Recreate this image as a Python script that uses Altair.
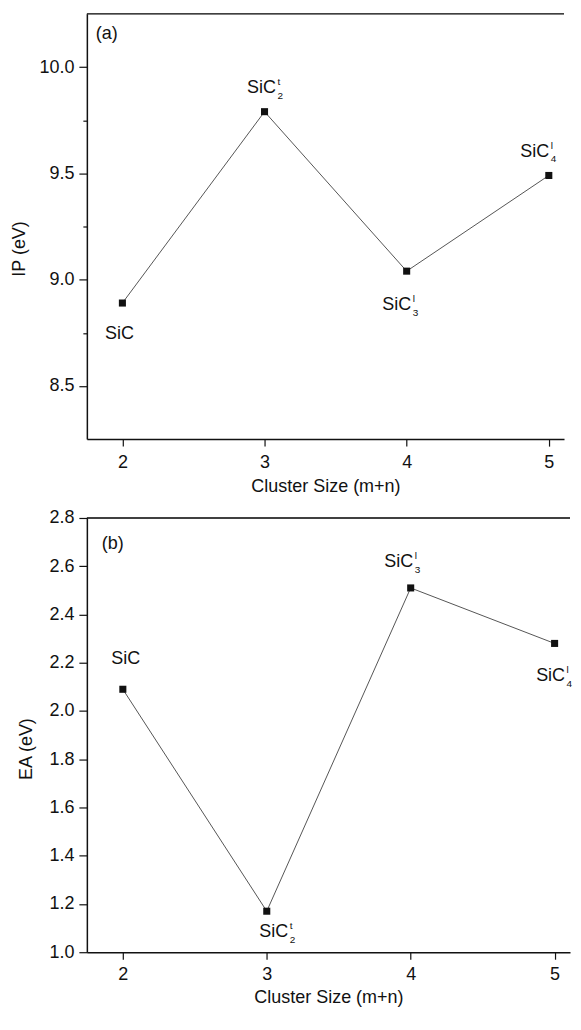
import altair as alt
import pandas as pd

# ---- data ----
cluster_size = [2, 3, 4, 5]
ip_values = [8.89, 9.79, 9.04, 9.49]
ea_values = [2.09, 1.17, 2.51, 2.28]
formula_base = ["SiC", "SiC", "SiC", "SiC"]
ip_sub = ["", "2", "3", "4"]
ip_sup = ["", "t", "l", "l"]
ea_sub = ["", "2", "3", "4"]
ea_sup = ["", "t", "l", "l"]

x_ticks = [2, 3, 4, 5]
ip_ticks = [8.5, 8.75, 9.0, 9.25, 9.5, 9.75, 10.0]
ea_ticks = [1.0, 1.1, 1.2, 1.3, 1.4, 1.5, 1.6, 1.7, 1.8, 1.9,
            2.0, 2.1, 2.2, 2.3, 2.4, 2.5, 2.6, 2.7, 2.8]

# label placement (pixel offsets from each point)
ip_label_dx = [-3, -3, -10, -14]
ip_label_dy = [31, -24, 34, -24]
ea_label_dx = [3, 7, -12, -4]
ea_label_dy = [-30, 21, -26, 33]

FONT = "Liberation Sans"
FS = 18
X_MAX = 5.107


def panel(values, subs, sups, dxs, dys, ytitle, ydomain, yticks, major_test,
          width, height, letter, letter_x, letter_y, title_x, title_y,
          xlabel_pad, xtitle_y):
    df = pd.DataFrame({"size": cluster_size, "value": values,
                       "base": formula_base, "sub": subs, "sup": sups})
    base = alt.Chart(df)
    x = alt.X("size:Q",
              scale=alt.Scale(domain=[1.75, X_MAX], nice=False, zero=False),
              axis=alt.Axis(values=x_ticks, format="d", title="Cluster Size (m+n)",
                            tickSize=7, labelPadding=xlabel_pad,
                            titleBaseline="alphabetic", titleY=xtitle_y))
    y = alt.Y("value:Q",
              scale=alt.Scale(domain=ydomain, nice=False, zero=False),
              axis=alt.Axis(values=yticks, title=ytitle,
                            labelExpr=f"({major_test}) ? format(datum.value, '.1f') : ''",
                            tickSize={"condition": {"test": major_test, "value": 8}, "value": 4},
                            labelPadding=5, labelOverlap=False,
                            titleX=title_x, titleY=title_y,
                            titleBaseline="middle", titleAlign="center"))
    line = base.mark_line(color="#555555", strokeWidth=1).encode(x=x, y=y)
    pts = base.mark_square(size=50, color="#111111", opacity=1).encode(
        x="size:Q", y="value:Q")
    layers = [line, pts]
    for i, s in enumerate(cluster_size):
        one = base.transform_filter(alt.datum.size == s)
        layers.append(one.mark_text(font=FONT, fontSize=FS, color="#111111",
                                    align="center", baseline="middle",
                                    dx=dxs[i], dy=dys[i]).encode(
            x="size:Q", y="value:Q", text="base:N"))
        layers.append(one.mark_text(font=FONT, fontSize=10, color="#111111",
                                    align="left", baseline="middle",
                                    dx=dxs[i] + 16, dy=dys[i] - 6).encode(
            x="size:Q", y="value:Q", text="sup:N"))
        layers.append(one.mark_text(font=FONT, fontSize=10, color="#111111",
                                    align="left", baseline="middle",
                                    dx=dxs[i] + 16, dy=dys[i] + 8).encode(
            x="size:Q", y="value:Q", text="sub:N"))
    one_row = alt.Chart(pd.DataFrame({"k": [0]}))
    top_rule = one_row.mark_rule(color="black", strokeWidth=1.5).encode(
        x=alt.value(0), x2=alt.value(width), y=alt.value(0))
    letter_txt = one_row.mark_text(font=FONT, fontSize=FS, align="left",
                                   baseline="middle", color="#111111").encode(
        x=alt.value(letter_x), y=alt.value(letter_y), text=alt.value(letter))
    layers += [top_rule, letter_txt]
    return alt.layer(*layers).properties(width=width, height=height)


top = panel(ip_values, ip_sub, ip_sup, ip_label_dx, ip_label_dy, "IP (eV)",
            [8.25, 10.25], ip_ticks, "datum.value % 0.5 == 0",
            478, 426, "(a)", 9, 20, -67, 235, 7, 52.5)
bottom = panel(ea_values, ea_sub, ea_sup, ea_label_dx, ea_label_dy, "EA (eV)",
               [1.0, 2.8], ea_ticks, "round(datum.value * 10) % 2 == 0",
               484, 435, "(b)", 15, 26, -60.5, 231, 6, 50.5)

chart = alt.vconcat(top, bottom, spacing=13).properties(
    padding={"left": 3, "top": 4, "right": 0, "bottom": 0}
).configure_view(stroke=None).configure_axis(
    grid=False, labelFont=FONT, titleFont=FONT, labelFontSize=FS, titleFontSize=FS,
    titleFontWeight="normal", labelColor="#111111", titleColor="#111111",
    domainColor="#111111", domainWidth=1.5, tickColor="#111111", tickWidth=1.2
)

chart.save("out.html", embed_options={"renderer": "svg", "actions": False})
